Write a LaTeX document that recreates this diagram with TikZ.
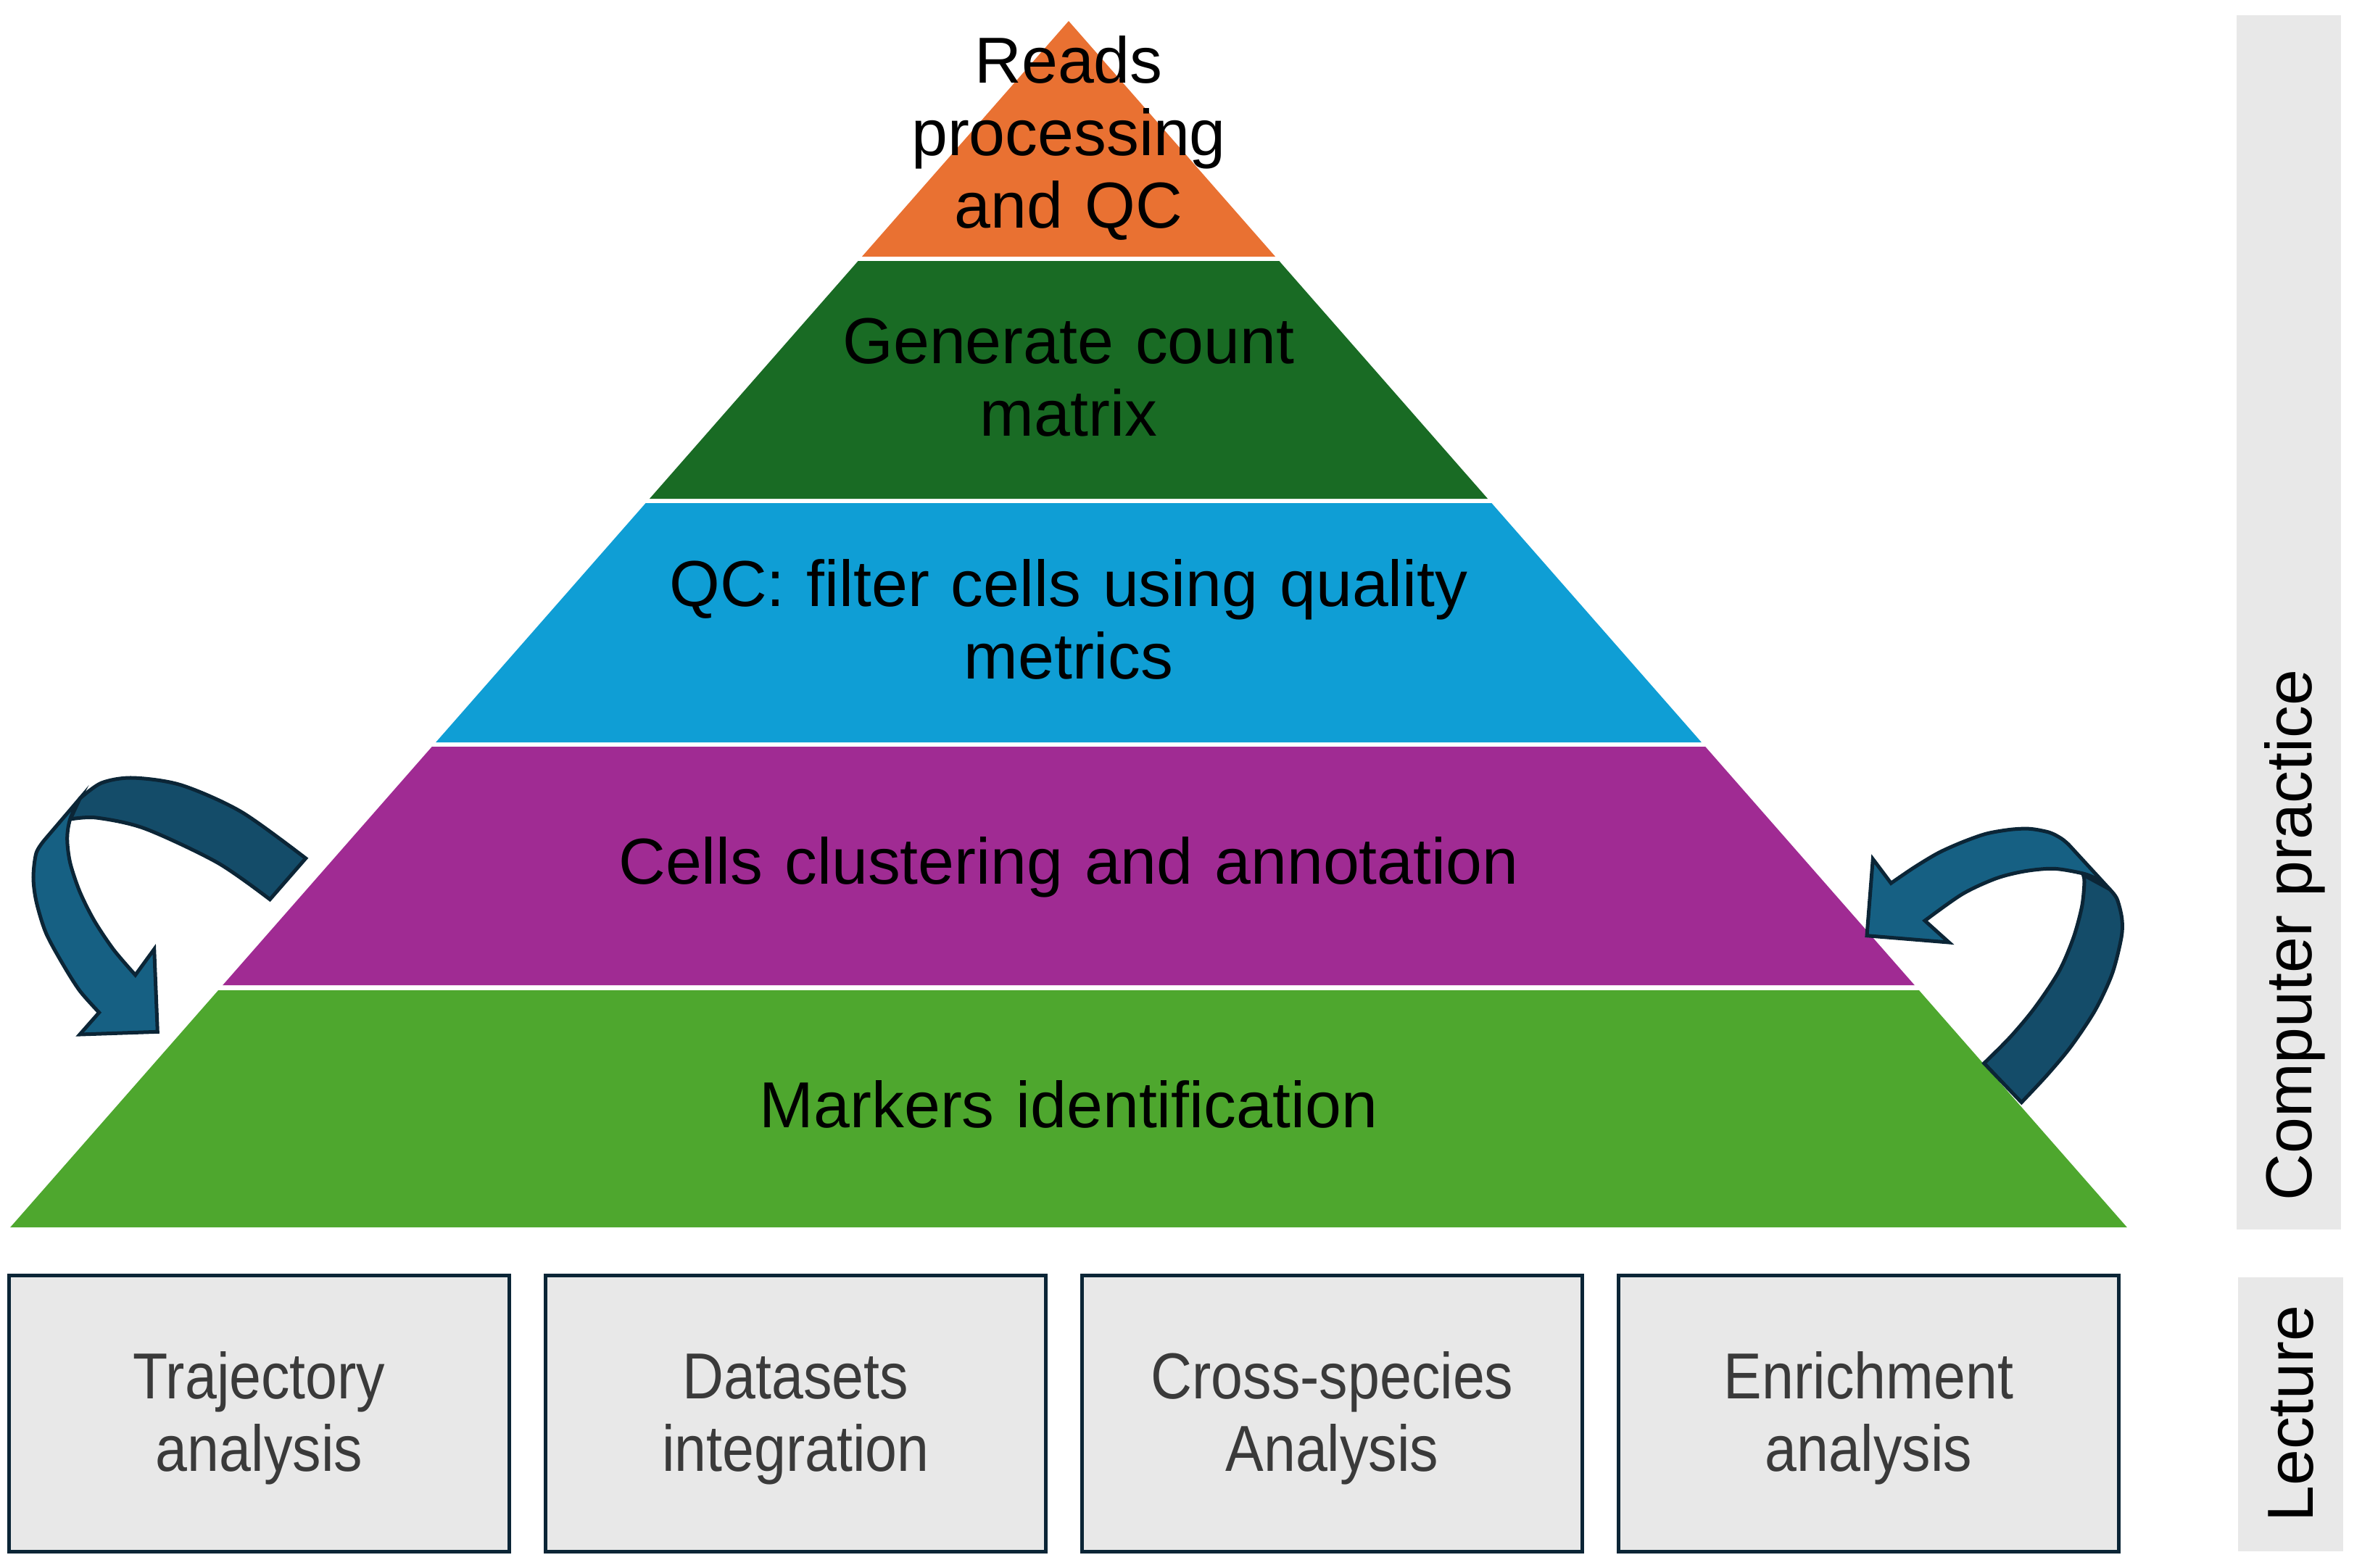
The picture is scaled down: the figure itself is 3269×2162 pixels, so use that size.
\documentclass[tikz,border=0pt]{standalone}
\usepackage{fontspec}
\setmainfont{Liberation Sans}
\newfontfamily\narrowsans[FakeStretch=0.88]{Liberation Sans}
\newcommand\pyrfont{\fontsize{25.5pt}{28.45pt}\selectfont}
\newcommand\topicfont{\narrowsans\fontsize{25.5pt}{28.45pt}\selectfont}

\definecolor{tierA}{HTML}{E97132}
\definecolor{tierB}{HTML}{196B24}
\definecolor{tierC}{HTML}{0F9ED5}
\definecolor{tierD}{HTML}{A02B93}
\definecolor{tierE}{HTML}{4EA72E}
\definecolor{panel}{HTML}{E8E8E8}
\definecolor{navy}{HTML}{0B2536}
\definecolor{frontblue}{HTML}{166083}
\definecolor{backblue}{HTML}{144C69}
\definecolor{topictext}{HTML}{3A3A3A}

\begin{document}
\begin{tikzpicture}[x=0.01cm,y=-0.01cm,
  tier/.style={font=\pyrfont, text width=20cm, align=center, inner sep=0pt, anchor=base},
  topic/.style={draw=navy, line width=0.05cm, fill=panel, minimum width=6.9cm,
                minimum height=3.81cm, inner sep=0pt},
  topiclabel/.style={font=\topicfont, text=topictext, text width=6cm, align=center,
                inner sep=0pt, anchor=base},
  sidebar/.style={fill=panel, draw=none, inner sep=0pt},
  sidetext/.style={font=\pyrfont, rotate=90, anchor=base, inner sep=0pt},
  backband/.style={fill=backblue, draw=navy, line width=0.05cm, line join=miter},
  frontband/.style={fill=frontblue, draw=navy, line width=0.05cm, line join=miter}]

\useasboundingbox (0,0) rectangle (3269,2162);

% pyramid tiers
\fill[tierA] (1474,29) -- (1759.1,354) -- (1188.9,354) -- cycle;
\fill[tierB] (1183.6,360) -- (1764.4,360) -- (2052.1,688) -- (895.9,688) -- cycle;
\fill[tierC] (890.6,694) -- (2057.4,694) -- (2346.9,1024) -- (601.1,1024) -- cycle;
\fill[tierD] (595.8,1030) -- (2352.2,1030) -- (2640.8,1359) -- (307.2,1359) -- cycle;
\fill[tierE] (301.1,1366) -- (2646.9,1366) -- (2933.8,1693) -- (14.2,1693) -- cycle;

\node[tier] (reads)   at (1474,114)  {Reads\\processing\\and QC};
\node[tier] (count)   at (1474,501)  {Generate count\\matrix};
\node[tier] (qc)      at (1474,836)  {QC: filter cells using quality\\metrics};
\node[tier] (cluster) at (1474,1219) {Cells clustering and annotation};
\node[tier] (markers) at (1474,1555) {Markers identification};

% lecture topics
\node[topic] (traj)   at (357.5,1950)  {};
\node[topic] (integ)  at (1097.5,1950) {};
\node[topic] (cross)  at (1837.5,1950) {};
\node[topic] (enrich) at (2577.5,1950) {};
\node[topiclabel] (trajtext)   at (357.5,1929)  {Trajectory\\analysis};
\node[topiclabel] (integtext)  at (1097.5,1929) {Datasets\\integration};
\node[topiclabel] (crosstext)  at (1837.5,1929) {Cross-species\\Analysis};
\node[topiclabel] (enrichtext) at (2577.5,1929) {Enrichment\\analysis};

% side bars
\node[sidebar, minimum width=1.44cm, minimum height=16.74cm] (cpbar) at (3157,858) {};
\node[sidebar, minimum width=1.45cm, minimum height=3.78cm] (lecbar) at (3159.5,1951) {};
\node[sidetext] (cplabel) at (3188,1290) {Computer practice};
\node[sidetext] (leclabel) at (3190,1950) {Lecture};

% left curved arrow: back band, then front band with head
\path[backband] (421.7,1184) -- (372.3,1240.7)
  -- plot[smooth] coordinates {(372.3,1240.7) (300,1190) (200,1143) (133,1128) (97,1130)}
  -- (110,1101.7)
  -- plot[smooth] coordinates {(110,1101.7) (140,1080) (183,1073) (250,1083) (333,1120) (421.7,1184)}
  -- cycle;
\path[frontband] (110,1101.7)
  -- plot[smooth] coordinates {(110,1101.7) (96.7,1130) (92.7,1156.7) (96.7,1190) (110,1230) (130,1270) (156.7,1310) (186.7,1345)}
  -- (212.7,1309.3) -- (217.3,1423.3) -- (110,1427) -- (136.7,1396.7)
  -- plot[smooth] coordinates {(136.7,1396.7) (110,1366.7) (86.7,1330) (63.3,1286.7) (50,1243.3) (46,1210) (50,1176.7) (61.7,1158.3)}
  -- cycle;

% right curved arrow: back band, then front band with head
\path[backband] (2736.7,1466.7) -- (2788.3,1520.7)
  -- plot[smooth] coordinates {(2788.3,1520.7) (2823.3,1483.3) (2856.7,1443.3) (2890,1393.3) (2913.3,1343.3) (2926,1293.3) (2926.7,1266.7) (2920,1240) (2910,1226.7)}
  -- (2873.3,1206.7)
  -- plot[smooth] coordinates {(2873.3,1206.7) (2875,1216.7) (2871.7,1250) (2860,1293.3) (2840,1340) (2806.7,1390) (2773.3,1430) (2736.7,1466.7)}
  -- cycle;
\path[frontband] (2853.3,1165) -- (2910,1226.7)
  -- plot[smooth] coordinates {(2910,1226.7) (2893.3,1213.3) (2873.3,1205) (2833.3,1198.3) (2793.3,1201.7) (2753.3,1211.7) (2706.7,1233.3) (2655,1270)}
  -- (2688.3,1300) -- (2575,1290.7) -- (2583.3,1185) -- (2608.3,1218.3)
  -- plot[smooth] coordinates {(2608.3,1218.3) (2640,1196.7) (2673.3,1176.7) (2706.7,1161.7) (2740,1150) (2773.3,1144.3) (2800,1143.3) (2826.7,1148.3) (2843.3,1156.7) (2853.3,1165)}
  -- cycle;
\end{tikzpicture}
\end{document}
